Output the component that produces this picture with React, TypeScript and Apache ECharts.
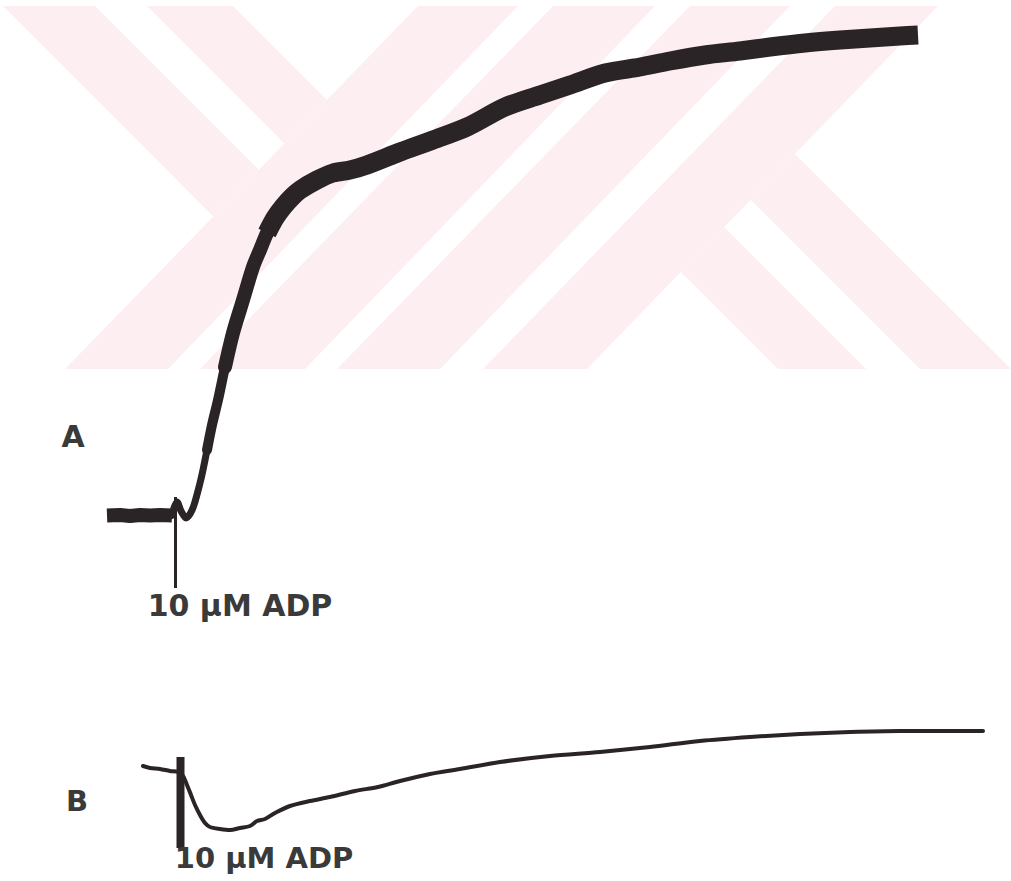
import React, { useEffect, useRef } from "react";
import * as echarts from "echarts";

// Trace A: time (s) vs aggregation (% light transmission)
const aBaseline: number[][] = [[0.7, 0.9], [2, 1.0], [3, 0.8], [4, 1.0], [5, 0.9], [6, 1.0], [7.2, 0.9]];
const aRiseLow: number[][] = [[7.2, 0.9], [7.4, 2.4], [7.7, 3.6], [8.1, 1.8], [8.6, 0.4], [9.0, 1.2], [9.4, 3.0], [10.0, 7.4], [10.3, 10.0], [10.7, 14.0], [11.2, 19.0]];
const aRiseMid: number[][] = [[10.7, 14.0], [11.2, 19.0], [11.8, 24.0], [12.5, 30.6], [13.3, 37.4]];
const aRiseHigh: number[][] = [[12.5, 30.6], [13.3, 37.4], [14.3, 44.0], [15.3, 50.6], [16.0, 54.0], [16.7, 57.4], [17.5, 60.4]];
const aPlateau: number[][] = [[16.7, 57.4], [17.5, 60.4], [18.3, 62.6], [19.2, 64.6], [20.0, 66.0], [21.7, 68.0], [23.3, 69.4], [25.0, 70.0], [26.7, 71.0], [30.0, 73.6], [33.3, 76.0], [36.7, 78.6], [40.5, 82.6], [44.0, 85.0], [47.0, 87.0], [50.5, 89.4], [54.0, 90.6], [57.0, 91.8], [60.5, 93.0], [64.0, 93.8], [67.0, 94.6], [70.5, 95.4], [74.0, 96.0], [77.0, 96.4], [80.0, 96.8], [81.8, 97.0]];
const aMarker: number[][] = [[7.55, 4.6], [7.55, -13.6]];

// Trace B
const bTrace: number[][] = [[4.3, 12.8], [5.0, 12.4], [6.0, 12.2], [7.0, 11.8], [7.8, 11.6], [8.3, 10.8], [8.7, 9.0], [9.1, 7.0], [9.5, 5.0], [10.0, 3.0], [10.5, 1.4], [11.0, 0.6], [12.0, 0.2], [13.0, 0.0], [14.0, 0.4], [15.0, 0.8], [15.7, 1.8], [16.5, 2.2], [17.5, 3.4], [19.0, 4.8], [21.0, 5.8], [23.0, 6.6], [25.5, 7.8], [27.8, 8.6], [30.0, 9.8], [33.0, 11.2], [36.0, 12.2], [40.0, 13.6], [45.0, 14.8], [50.0, 15.6], [55.0, 16.6], [60.0, 17.8], [65.0, 18.6], [70.0, 19.2], [75.0, 19.6], [80.0, 19.8], [88.3, 19.8]];
const bMarker: number[][] = [[8.05, 14.6], [8.05, -3.6]];

const panelLabels = ["A", "B"];
const agonistLabel = "10 µM ADP";

// background watermark bands (decoration)
const watermarkBands: number[][][] = [
  [[3, 6], [95, 6], [258.7, 169.7], [213.4, 216.4]],
  [[147, 6], [233, 6], [326.8, 99.8], [284.4, 143.4]],
  [[418, 6], [518, 6], [168, 369], [65, 369]],
  [[553, 6], [655, 6], [305, 369], [200, 369]],
  [[690, 6], [790, 6], [440, 369], [337, 369]],
  [[835, 6], [938, 6], [587, 369], [483, 369]],
  [[794.9, 153.9], [1011, 369], [920, 369], [750.7, 199.7]],
  [[724.1, 227.1], [866, 369], [778, 369], [680.9, 271.9]],
];

const INK = "#2a2427";

export default function App() {
  const ref = useRef<HTMLDivElement>(null);
  useEffect(() => {
    if (!ref.current) return;
    const chart = echarts.init(ref.current, null, { renderer: "svg" });
    const line = (data: number[][], idx: number, width: number, cap = "round", smooth: number | boolean = 0.3) => ({
      type: "line",
      xAxisIndex: idx,
      yAxisIndex: idx,
      data,
      symbol: "none",
      smooth,
      silent: true,
      z: 5,
      lineStyle: { color: INK, width, cap, join: "round" },
    });
    const label = (text: string, x: number, y: number, size: number) => ({
      type: "text",
      x,
      y,
      z: 20,
      style: {
        text,
        fill: "#3a3a3a",
        font: `bold ${size}px "DejaVu Sans", "Liberation Sans", sans-serif`,
        textAlign: "center",
        textVerticalAlign: "middle",
        align: "center",
        verticalAlign: "middle",
      },
    });
    chart.setOption({
      animation: false,
      backgroundColor: "#ffffff",
      grid: [
        { left: 100, top: 20, width: 840, height: 600 },
        { left: 100, top: 700, width: 900, height: 150 },
      ],
      xAxis: [
        { type: "value", gridIndex: 0, min: 0, max: 84, show: false },
        { type: "value", gridIndex: 1, min: 0, max: 90, show: false },
      ],
      yAxis: [
        { type: "value", gridIndex: 0, min: -20, max: 100, show: false },
        { type: "value", gridIndex: 1, min: -4, max: 26, show: false },
      ],
      graphic: [
        ...watermarkBands.map((pts) => ({
          type: "polygon",
          z: 0,
          silent: true,
          shape: { points: pts },
          style: { fill: "#fdeef2" },
        })),
        label(panelLabels[0], 73, 436, 30),
        label(panelLabels[1], 77, 801, 29),
        label(agonistLabel, 240, 605, 30),
        label(agonistLabel, 264, 858, 29),
      ],
      series: [
        line(aBaseline, 0, 14, "butt", false),
        line(aRiseLow, 0, 7),
        line(aRiseMid, 0, 10),
        line(aRiseHigh, 0, 14),
        line(aPlateau, 0, 19, "butt"),
        line(aMarker, 0, 3, "butt", false),
        line(bTrace, 1, 4),
        line(bMarker, 1, 8, "butt", false),
      ],
    });
    return () => chart.dispose();
  }, []);
  return (
    <div
      ref={ref}
      style={{ position: "fixed", left: 0, top: 0, width: 1011, height: 881 }}
    />
  );
}
